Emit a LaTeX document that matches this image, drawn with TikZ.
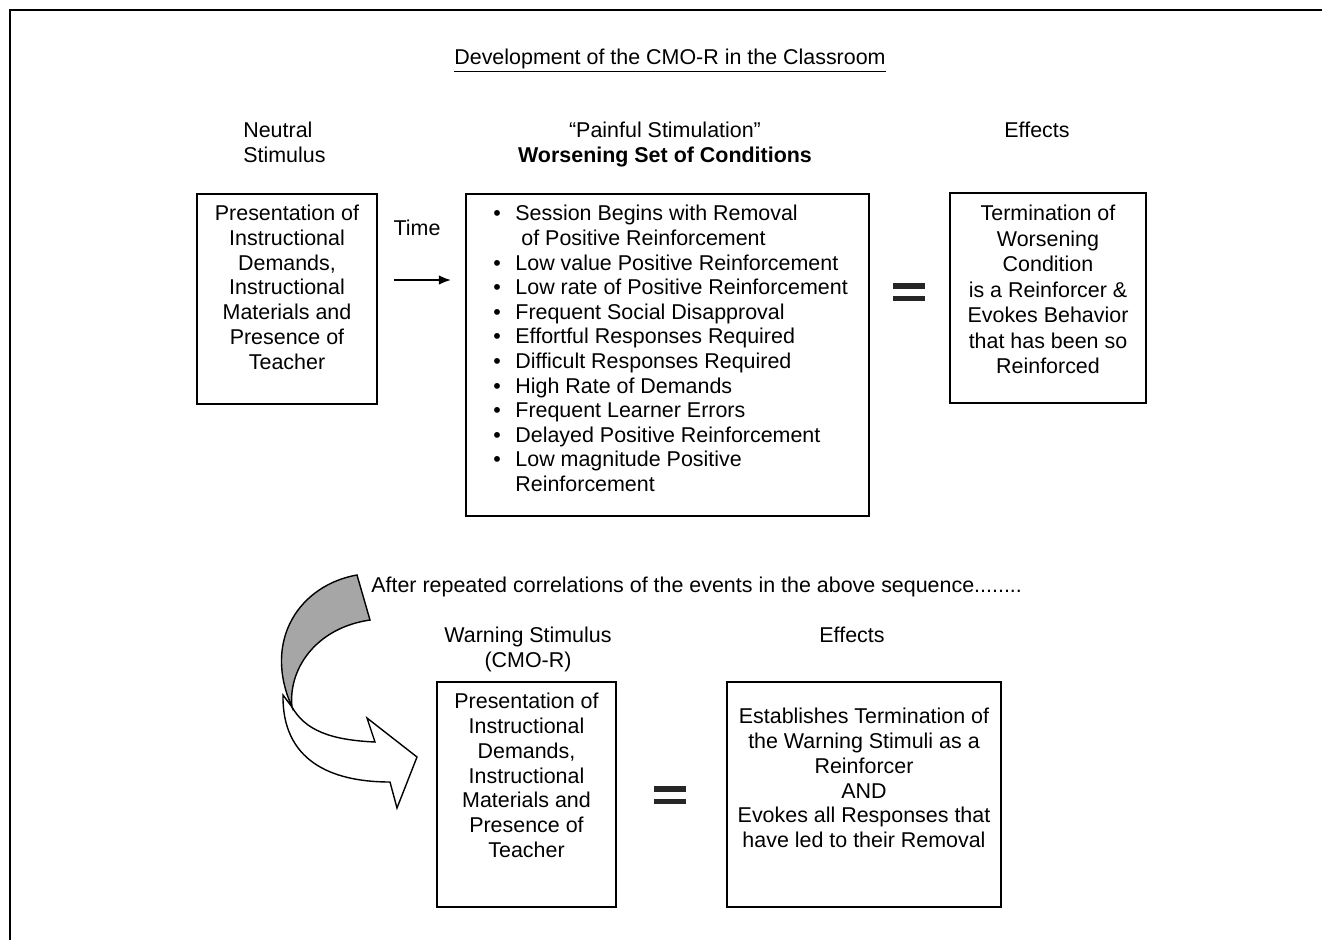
\documentclass[tikz,border=0pt]{standalone}
\usepackage{fontspec}
\setmainfont{Liberation Sans}
\usetikzlibrary{arrows.meta}
\usetikzlibrary{positioning}
\newcommand{\itembul}{\makebox[0.44cm][l]{\textbullet}}

\begin{document}
\begin{tikzpicture}[x=0.02cm,y=-0.02cm]
		\tikzset{
			box/.style={draw,line width=1.1pt,inner sep=0pt},
			txt/.style={inner sep=0pt,align=center,font=\fontsize{12.2}{14.05}\selectfont},
			timearrow/.style={line width=1.1pt,-{Latex[length=7pt,width=5.5pt]}},
			eqsign/.style={minimum width=0.64cm,minimum height=0.36cm,inner sep=0pt,
				path picture={
					\fill[black!85] (path picture bounding box.north west) rectangle ([yshift=-0.11cm]path picture bounding box.north east);
					\fill[black!85] (path picture bounding box.south west) rectangle ([yshift=0.11cm]path picture bounding box.south east);
				}}
		}
		\useasboundingbox (0,0) rectangle (1322,940);
		\draw[line width=1.1pt] (1322,10) -- (10,10) -- (10,940);
		\node[txt,anchor=north] (title) at (670,49) {\underline{Development of the CMO-R in the Classroom}};
		\node[txt,align=left,anchor=north west] (neutrallbl) at (243,122) {Neutral\\Stimulus};
		\node[txt,anchor=north] (painlbl) at (665,122) {“Painful Stimulation”\\\textbf{Worsening Set of Conditions}};
		\node[txt,anchor=north] (effectslbl) at (1037,122) {Effects};
		\node[txt,anchor=north] (timelbl) at (417,220) {Time};
		\node[box,minimum width=3.6cm,minimum height=4.2cm] (neutral) at (287,299) {};
		\node[txt,below=0.24cm of neutral.north] (neutraltxt) {Presentation of\\Instructional\\Demands,\\Instructional\\Materials and\\Presence of\\Teacher};
		\node[box,minimum width=8.06cm,minimum height=6.44cm] (cond) at (667.5,355) {};
		\node[txt,align=left,font=\fontsize{12.2}{14}\selectfont,below right=0.24cm and 0.56cm of cond.north west] (condtxt) {%
			\itembul Session Begins with Removal\\
			\hspace*{0.56cm}of Positive Reinforcement\\
			\itembul Low value Positive Reinforcement\\
			\itembul Low rate of Positive Reinforcement\\
			\itembul Frequent Social Disapproval\\
			\itembul Effortful Responses Required\\
			\itembul Difficult Responses Required\\
			\itembul High Rate of Demands\\
			\itembul Frequent Learner Errors\\
			\itembul Delayed Positive Reinforcement\\
			\itembul Low magnitude Positive\\
			\hspace*{0.44cm}Reinforcement};
		\node[box,minimum width=3.92cm,minimum height=4.2cm] (effects) at (1048,298) {};
		\node[txt,font=\fontsize{12.2}{14.5}\selectfont,below=0.26cm of effects.north] (effectstxt) {Termination of\\Worsening\\Condition\\is a Reinforcer \&\\Evokes Behavior\\that has been so\\Reinforced};
		\coordinate (tstart) at ([xshift=0.32cm,yshift=0.38cm]neutral.east);
		\coordinate (tend) at (tstart -| cond.west);
		\draw[timearrow] (tstart) -- ([xshift=-0.28cm]tend);
		\node[eqsign] (eqa) at (909,292) {};
		\filldraw[fill=white,line width=0.8pt] (283,695) .. controls (282,760) and (330,782) .. (390,782) -- (397,808) -- (417,757) -- (367,718) -- (375,742) .. controls (330,740) and (305,730) .. (292,707) -- cycle;
		\filldraw[fill=black!35,line width=0.8pt] (357,575) .. controls (300,585) and (262,640) .. (292,707) .. controls (288,670) and (315,628) .. (370,620) -- cycle;
		\node[txt,anchor=north west] (afterlbl) at (371,577) {After repeated correlations of the events in the above sequence........};
		\node[txt,anchor=north] (warnlbl) at (528,627) {Warning Stimulus\\(CMO-R)};
		\node[txt,anchor=north] (effectslbl2) at (852,627) {Effects};
		\node[box,minimum width=3.58cm,minimum height=4.5cm] (warning) at (526.5,794.5) {};
		\node[txt,below=0.24cm of warning.north] (warningtxt) {Presentation of\\Instructional\\Demands,\\Instructional\\Materials and\\Presence of\\Teacher};
		\node[eqsign] (eqb) at (670,795) {};
		\node[box,minimum width=5.48cm,minimum height=4.5cm] (establish) at (864,794.5) {};
		\node[txt,below=0.54cm of establish.north] (establishtxt) {Establishes Termination of\\the Warning Stimuli as a\\Reinforcer\\AND\\Evokes all Responses that\\have led to their Removal};
	\end{tikzpicture}
\end{document}
